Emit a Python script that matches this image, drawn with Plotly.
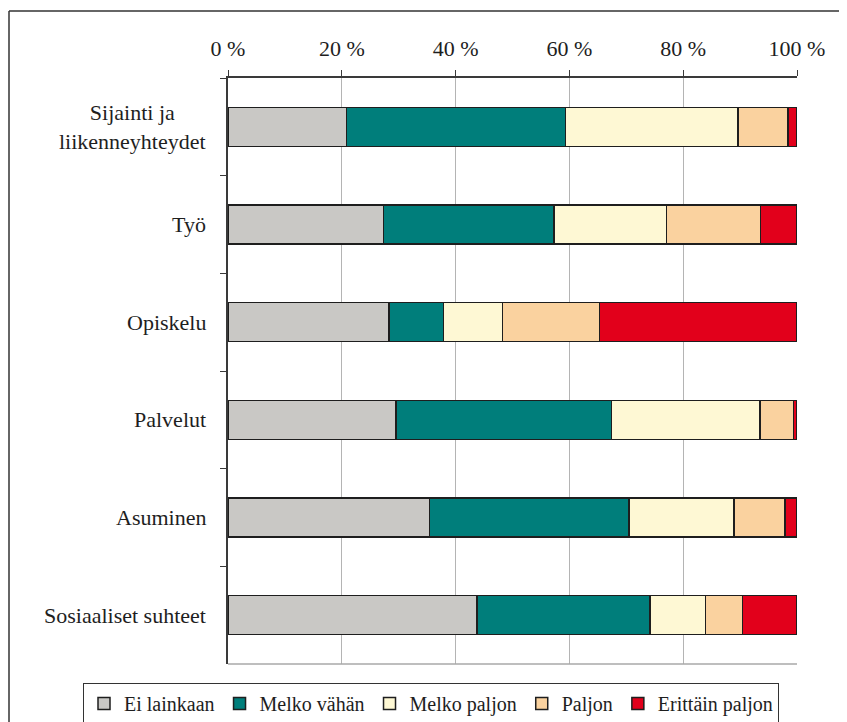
import plotly.graph_objects as go

categories = ["Sijainti ja<br>liikenneyhteydet", "Työ", "Opiskelu", "Palvelut", "Asuminen", "Sosiaaliset suhteet"]
series_names = ["Ei lainkaan", "Melko vähän", "Melko paljon", "Paljon", "Erittäin paljon"]
ei_lainkaan = [20.8, 27.3, 28.3, 29.5, 35.4, 43.8]
melko_vahan = [38.5, 30.0, 9.6, 37.9, 35.1, 30.4]
melko_paljon = [30.3, 19.8, 10.3, 26.1, 18.4, 9.7]
paljon = [8.8, 16.5, 17.1, 5.9, 9.0, 6.5]
erittain_paljon = [1.6, 6.4, 34.7, 0.6, 2.1, 9.6]
tick_vals = [0, 20, 40, 60, 80, 100]
tick_text = ["0 %", "20 %", "40 %", "60 %", "80 %", "100 %"]

colors = ["#C9C8C5", "#007E7B", "#FEF8D4", "#FAD29F", "#E2001B"]
values = [ei_lainkaan, melko_vahan, melko_paljon, paljon, erittain_paljon]

FONT = "Liberation Serif"
TXT = "#1e1e1e"

# page body has an 8px margin; work in window pixels and subtract it
OFF = 8
W, H = 847 - OFF, 722 - OFF
X0, X1, Y0, Y1 = 228 - OFF, 797 - OFF, 78 - OFF, 664 - OFF  # plot area in figure px
L, R, T, B = X0, W - X1, Y0, H - Y1
PW, PH = X1 - X0, Y1 - Y0


def px(xw):
    return (xw - OFF - X0) / PW


def py(yw):
    return (Y1 - (yw - OFF)) / PH


fig = go.Figure()
for name, vals, col in zip(series_names, values, colors):
    fig.add_trace(go.Bar(
        y=categories, x=vals, name=name, orientation="h",
        marker=dict(color=col, line=dict(color="#1e1e1e", width=1.5)),
        hoverinfo="x+name",
    ))

annotations = []
for c in categories:
    annotations.append(dict(
        x=px(208), xref="paper", y=c, yref="y", text=c, showarrow=False,
        xanchor="right", align="center",
        font=dict(family=FONT, size=22, color=TXT),
    ))

fig.update_layout(
    width=W, height=H,
    barmode="stack", bargap=0.6,
    paper_bgcolor="white", plot_bgcolor="white",
    margin=dict(l=L, r=R, t=T, b=B, autoexpand=False),
    font=dict(family=FONT, size=22, color=TXT),
    showlegend=True,
    legend=dict(
        orientation="h", x=px(83), xanchor="left",
        y=py(683), yanchor="top",
        bordercolor="#333333", borderwidth=1, bgcolor="white",
        font=dict(family=FONT, size=20, color=TXT),
        traceorder="normal", itemwidth=30, tracegroupgap=0,
    ),
    xaxis=dict(
        side="top", range=[0, 100], tickvals=tick_vals, ticktext=tick_text,
        showgrid=True, gridcolor="#B4B4B4", gridwidth=1,
        showline=True, linecolor="#3a3a3a", linewidth=1.5,
        ticks="outside", ticklen=6, tickcolor="#3a3a3a", tickwidth=1.2,
        ticklabelstandoff=5, zeroline=False, fixedrange=True,
        tickfont=dict(family=FONT, size=22, color=TXT),
    ),
    yaxis=dict(
        categoryorder="array", categoryarray=categories, autorange="reversed",
        showticklabels=False, showgrid=False,
        showline=True, linecolor="#3a3a3a", linewidth=1.5,
        ticks="outside", ticklen=6, tickcolor="#3a3a3a", tickwidth=1.2,
        tickson="boundaries", fixedrange=True,
    ),
    annotations=annotations,
    shapes=[
        dict(type="line", xref="paper", yref="paper", x0=0, x1=1, y0=0, y1=0,
             line=dict(color="#A8A8A8", width=1.5)),
        # outer frame (top and left edges visible in the reference)
        dict(type="line", xref="paper", yref="paper",
             x0=px(9), x1=px(847), y0=py(11), y1=py(11),
             line=dict(color="#333333", width=1.5), layer="below"),
        dict(type="line", xref="paper", yref="paper",
             x0=px(9), x1=px(9), y0=py(11), y1=py(722),
             line=dict(color="#333333", width=1.5), layer="below"),
    ],
)

fig.write_html("out.html")
